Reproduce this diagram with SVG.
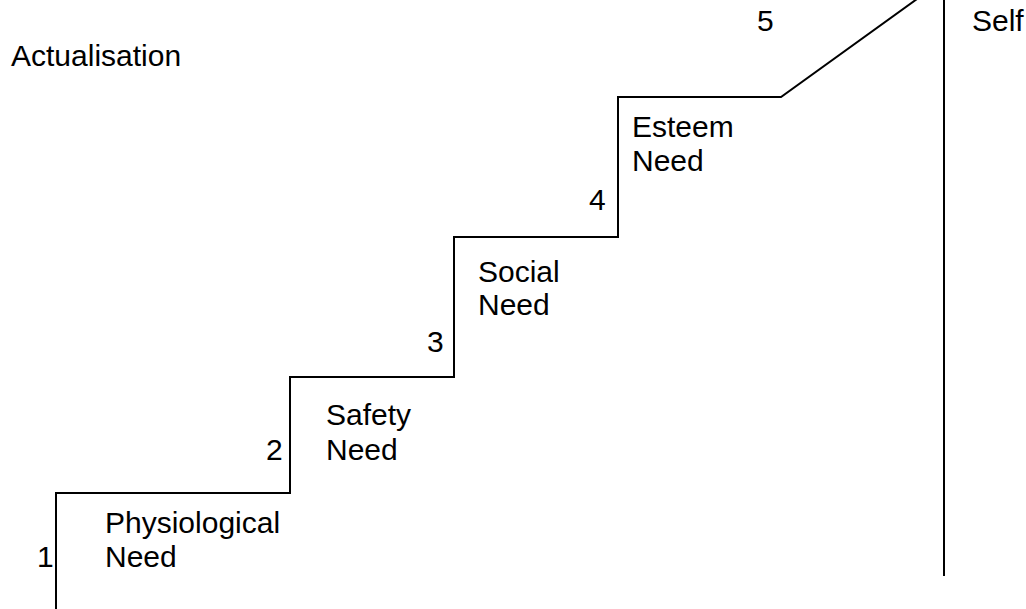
<svg xmlns="http://www.w3.org/2000/svg" width="1026" height="609" viewBox="0 0 1026 609">
<style>
.t{font-family:"Liberation Sans",Arial,sans-serif;font-size:30px;fill:#000}
.ln{fill:none;stroke:#000;stroke-width:2}
</style>
<rect width="1026" height="609" fill="#fff"/>
<g id="connectors">
<polyline class="ln" points="56,609 56,493 290,493 290,377 454,377 454,237 618,237 618,97 781,97 917,-1"/>
<line class="ln" x1="944" y1="0" x2="944" y2="576"/>
</g>
<g id="step1"><text class="t" x="105" y="533">Physiological</text><text class="t" x="105" y="567">Need</text><text class="t" x="37" y="567">1</text></g>
<g id="step2"><text class="t" x="326" y="425">Safety</text><text class="t" x="326" y="460">Need</text><text class="t" x="266" y="460">2</text></g>
<g id="step3"><text class="t" x="478" y="282">Social</text><text class="t" x="478" y="315">Need</text><text class="t" x="427" y="352">3</text></g>
<g id="step4"><text class="t" x="632" y="137">Esteem</text><text class="t" x="632" y="171">Need</text><text class="t" x="589" y="210">4</text></g>
<g id="step5"><text class="t" x="757" y="31">5</text><text class="t" x="972" y="31">Self</text><text class="t" x="11" y="66">Actualisation</text></g>
</svg>
